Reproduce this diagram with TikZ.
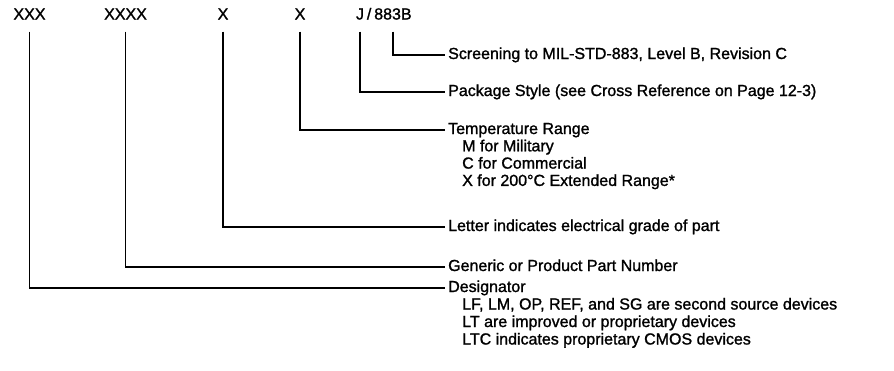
\documentclass[tikz,border=0pt]{standalone}
\usepackage{fontspec}
\setmainfont{Liberation Sans}[FakeBold=1.3]
\usetikzlibrary{positioning}
\tikzset{
  code/.style={inner sep=0pt, text height=11pt, text depth=0pt},
  desc/.style={anchor=west, inner xsep=3pt, inner ysep=0pt, text height=11pt, text depth=3pt},
  lead/.style={line width=1.3pt},
}

\begin{document}
\begin{tikzpicture}[x=1pt,y=-1pt,font=\fontsize{16}{17}\selectfont]
  \useasboundingbox (0,0) rectangle (894,370);
  % fields of the part number
  \node[code] (desig) at (29.5,14) {XXX};
  \node[code] (part) at (125.5,14) {XXXX};
  \node[code] (grade) at (223,14) {X};
  \node[code] (temp) at (300,14) {X};
  \node[code] (pkg) at (360,14) {J};
  \node[code,right=2.5pt of pkg] (slash) {/};
  \node[code,right=2.5pt of slash] (scrn) {883B};

  % what each field means
  \node[desc] (scrn-txt) at (445,55) {Screening to MIL-STD-883, Level B, Revision C};
  \node[desc] (pkg-txt) at (445,92) {Package Style (see Cross Reference on Page 12-3)};
  \node[desc] (temp-txt) at (445,130) {Temperature Range};
  \foreach \t [count=\i] in {M for Military, C for Commercial, X for 200°C Extended Range*}
    \node[desc] (temp-sub\i) at (459,130+17.3*\i) {\t};
  \node[desc] (grade-txt) at (445,227) {Letter indicates electrical grade of part};
  \node[desc] (part-txt) at (445,267) {Generic or Product Part Number};
  \node[desc] (desig-txt) at (445,288) {Designator};
  \foreach \t [count=\i] in {{LF, LM, OP, REF, and SG are second source devices},
      LT are improved or proprietary devices, LTC indicates proprietary CMOS devices}
    \node[desc] (desig-sub\i) at (459,288+17.5*\i) {\t};

  % leaders
  \foreach \c in {scrn,pkg,temp,grade,part,desig}
    \draw[lead] ([yshift=-12pt]\c.south) |- (\c-txt.west);
\end{tikzpicture}
\end{document}
